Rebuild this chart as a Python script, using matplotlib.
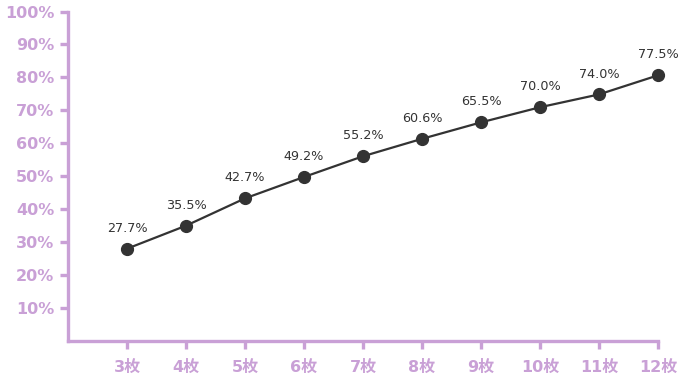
import matplotlib
matplotlib.use("Agg")
import matplotlib.pyplot as plt

# data
categories = ["3枚", "4枚", "5枚", "6枚", "7枚", "8枚", "9枚", "10枚", "11枚", "12枚"]
x_pos = [3, 4, 5, 6, 7, 8, 9, 10, 11, 12]
values = [27.9, 34.9, 43.2, 49.7, 56.0, 61.3, 66.3, 70.9, 74.8, 80.6]
point_labels = ["27.7%", "35.5%", "42.7%", "49.2%", "55.2%", "60.6%", "65.5%", "70.0%", "74.0%", "77.5%"]
y_ticks = [10, 20, 30, 40, 50, 60, 70, 80, 90, 100]

axis_color = "#c9a0d6"
line_color = "#333333"

plt.rcParams['font.family'] = ['DejaVu Sans', 'Noto Sans CJK JP']

fig = plt.figure(figsize=(6.85, 3.8), dpi=100)
ax = fig.add_axes([68 / 685, 39.5 / 380, 590 / 685, 329 / 380])

ax.plot(x_pos, values, color=line_color, linewidth=1.6, marker="o",
        markersize=8.5, markerfacecolor=line_color, markeredgecolor=line_color,
        clip_on=False, zorder=3)

for x, v, lab in zip(x_pos, values, point_labels):
    ax.annotate(lab, (x, v), xytext=(0, 10), textcoords="offset points",
                ha="center", va="bottom", fontsize=9.2, color=line_color)

ax.set_xlim(2, 12)
ax.set_ylim(0, 100)
ax.set_xticks(x_pos)
ax.set_xticklabels(categories)
ax.set_yticks(y_ticks)
ax.set_yticklabels([f"{t}%" for t in y_ticks])

for side in ["top", "right"]:
    ax.spines[side].set_visible(False)
for side in ["left", "bottom"]:
    ax.spines[side].set_color(axis_color)
    ax.spines[side].set_linewidth(2.4)

ax.tick_params(axis="both", colors=axis_color, length=6, width=2.4,
               labelsize=11.5)
ax.tick_params(axis="x", pad=8)
ax.tick_params(axis="y", pad=4)
for t in ax.get_xticklabels() + ax.get_yticklabels():
    t.set_fontweight("bold")
    t.set_color(axis_color)

fig.savefig("out.png", dpi=100)
